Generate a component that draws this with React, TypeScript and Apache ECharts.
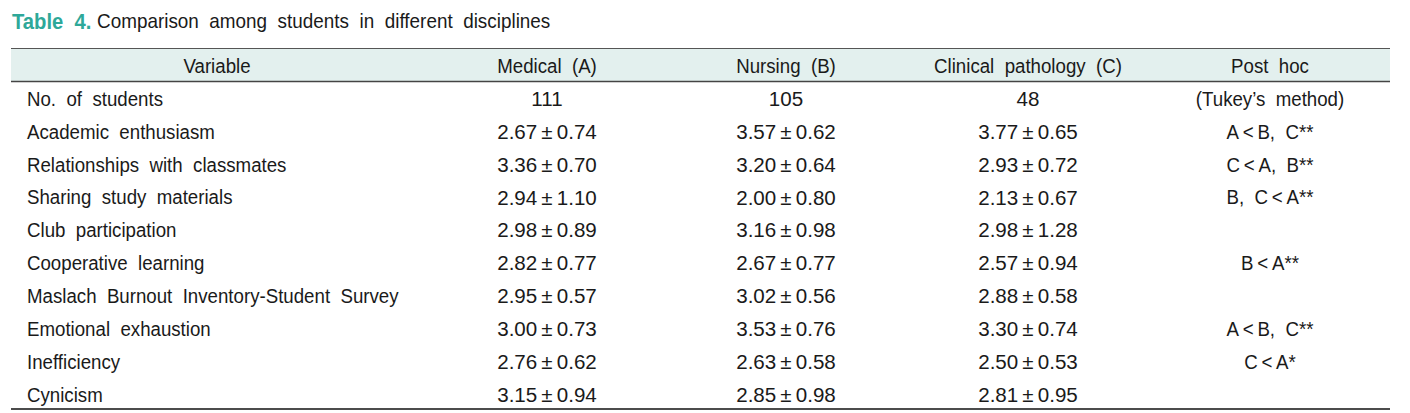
import React, { useEffect, useRef } from "react";
import * as echarts from "echarts";

const titleLabel = "Table 4.";
const titleText = "Comparison among students in different disciplines";
const headers = ["Variable", "Medical (A)", "Nursing (B)", "Clinical pathology (C)", "Post hoc"];
const studentCounts = [111, 105, 48];
const countNote = "(Tukey\u2019s method)";
const variables = [
  "Academic enthusiasm",
  "Relationships with classmates",
  "Sharing study materials",
  "Club participation",
  "Cooperative learning",
  "Maslach Burnout Inventory-Student Survey",
  "Emotional exhaustion",
  "Inefficiency",
  "Cynicism",
];
const medicalMean = [2.67, 3.36, 2.94, 2.98, 2.82, 2.95, 3.0, 2.76, 3.15];
const medicalSd = [0.74, 0.7, 1.1, 0.89, 0.77, 0.57, 0.73, 0.62, 0.94];
const nursingMean = [3.57, 3.2, 2.0, 3.16, 2.67, 3.02, 3.53, 2.63, 2.85];
const nursingSd = [0.62, 0.64, 0.8, 0.98, 0.77, 0.56, 0.76, 0.58, 0.98];
const clinicalMean = [3.77, 2.93, 2.13, 2.98, 2.57, 2.88, 3.3, 2.5, 2.81];
const clinicalSd = [0.65, 0.72, 0.67, 1.28, 0.94, 0.58, 0.74, 0.53, 0.95];
const postHoc = ["A<B, C**", "C<A, B**", "B, C<A**", "", "B<A**", "", "A<B, C**", "C<A*", ""];

const FONT = "'Liberation Sans', Arial, sans-serif";
const TEXT_COLOR = "#1a1a1a";
const colCenters = [217, 547, 786, 1028, 1270];
const labelX = 27;
const tableLeft = 11;
const tableRight = 1390;
const rowY0 = 98.5;
const rowStep = 32.85;
const fontSize = 21;
const SX = 0.89;
const NUM_SX = 0.98;

const wide = (s: string) => s.replace(/ /g, "  ").replace(/</g, "\u2009<\u2009");
const fmt = (m: number, s: number) => `${m.toFixed(2)}\u2009\u00b1\u2009${s.toFixed(2)}`;

function txt(text: string, x: number, y: number, align: string, extra: any = {}, sx = SX) {
  return {
    type: "text",
    x,
    y,
    scaleX: sx,
    style: {
      text,
      x: 0,
      y: 0,
      align,
      verticalAlign: "middle",
      fontFamily: FONT,
      fontSize,
      fill: TEXT_COLOR,
      ...extra,
    },
  };
}

export default function App() {
  const ref = useRef<HTMLDivElement>(null);
  useEffect(() => {
    if (!ref.current) return;
    const chart = echarts.init(ref.current, undefined, { renderer: "svg" });
    const els: any[] = [];
    // title
    els.push(txt(wide(titleLabel), 12, 21, "left", { fontWeight: "bold", fill: "#2ea899", fontSize: 22 }, 0.92));
    els.push(txt(wide(titleText), 97, 21, "left", { fontSize: 21 }, 0.9));
    // header background
    els.push({
      type: "rect",
      shape: { x: tableLeft, y: 48, width: tableRight - tableLeft, height: 33 },
      style: { fill: "#e3f0ee" },
    });
    els.push({
      type: "line",
      shape: { x1: tableLeft, y1: 48.5, x2: tableRight, y2: 48.5 },
      style: { stroke: "#555", lineWidth: 1 },
    });
    els.push({
      type: "line",
      shape: { x1: tableLeft, y1: 81.5, x2: tableRight, y2: 81.5 },
      style: { stroke: "#444", lineWidth: 1.5 },
    });
    els.push({
      type: "line",
      shape: { x1: tableLeft, y1: 409, x2: tableRight, y2: 409 },
      style: { stroke: "#111", lineWidth: 1.5 },
    });
    headers.forEach((h, i) => els.push(txt(wide(h), colCenters[i], 65.5, "center")));
    // first row
    els.push(txt(wide("No. of students"), labelX, rowY0, "left"));
    studentCounts.forEach((c, i) =>
      els.push(txt(String(c), colCenters[i + 1], rowY0, "center", {}, NUM_SX))
    );
    els.push(txt(wide(countNote), colCenters[4], rowY0, "center"));
    variables.forEach((v, r) => {
      const y = rowY0 + (r + 1) * rowStep;
      els.push(txt(wide(v), labelX, y, "left"));
      els.push(txt(fmt(medicalMean[r], medicalSd[r]), colCenters[1], y, "center", {}, NUM_SX));
      els.push(txt(fmt(nursingMean[r], nursingSd[r]), colCenters[2], y, "center", {}, NUM_SX));
      els.push(txt(fmt(clinicalMean[r], clinicalSd[r]), colCenters[3], y, "center", {}, NUM_SX));
      if (postHoc[r]) els.push(txt(wide(postHoc[r]), colCenters[4], y, "center"));
    });
    chart.setOption({ animation: false, graphic: { elements: els } });
    return () => chart.dispose();
  }, []);
  return (
    <div
      ref={ref}
      style={{ position: "fixed", left: 0, top: 0, width: 1410, height: 413, background: "#fff" }}
    />
  );
}
